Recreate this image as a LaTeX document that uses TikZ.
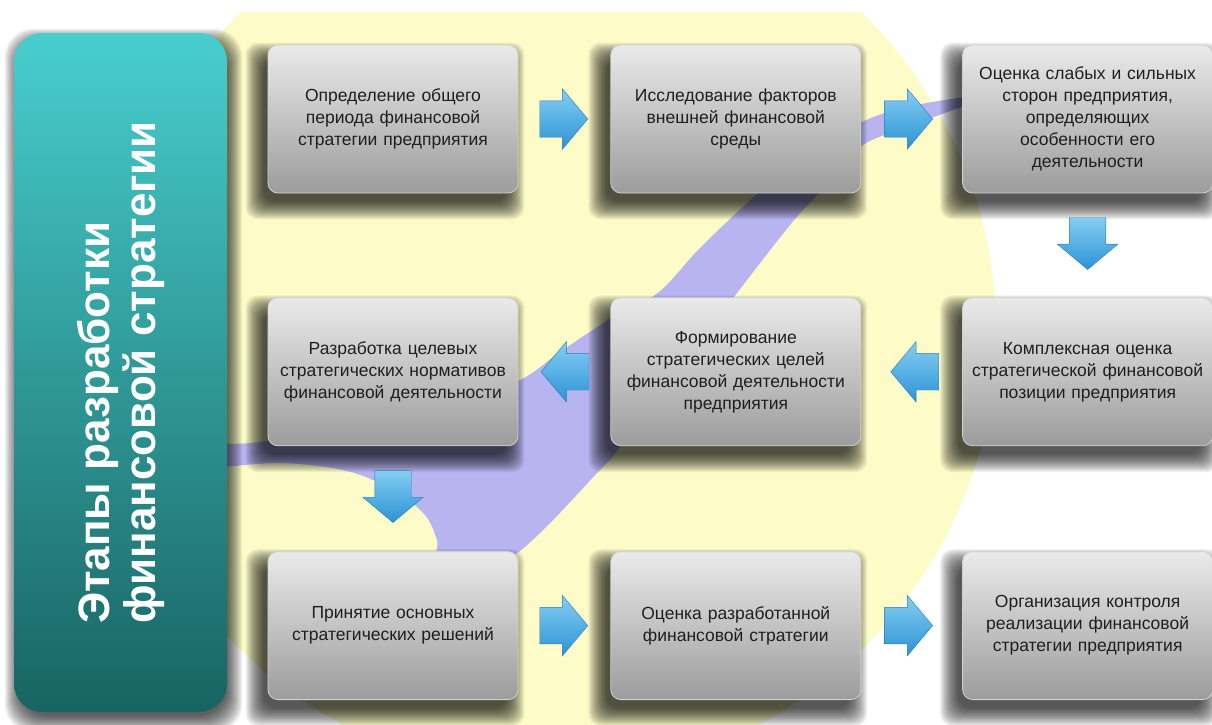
\documentclass[tikz,border=0pt]{standalone}
\usepackage{fontspec}
\setmainfont{Liberation Sans}[BoldFont={Liberation Sans Bold}]
\usetikzlibrary{positioning,calc,shapes.arrows}

\definecolor{zhelt}{RGB}{253,252,200}
\definecolor{lilac}{RGB}{184,180,240}
\definecolor{tealtop}{RGB}{72,206,206}
\definecolor{tealbot}{RGB}{24,100,98}
\definecolor{boxtop}{RGB}{234,234,234}
\definecolor{boxbot}{RGB}{156,156,156}
\definecolor{arrtop}{RGB}{132,206,243}
\definecolor{arrbot}{RGB}{46,146,212}

\pgfdeclarelayer{fon}
\pgfdeclarelayer{ten}
\pgfsetlayers{fon,ten,main}

\tikzset{
	every node/.style={
		font=\fontsize{17.5}{22}\selectfont,
		text=black!88
	},
	etap/.style={
		shape=rectangle,
		minimum width=250pt,
		minimum height=148pt,
		text width=236pt,
		inner sep=7pt,
		align=center,
		rounded corners=10pt,
		top color=boxtop,
		bottom color=boxbot,
		draw=white!82!black,
		line width=0.8pt
	},
	bokovik/.style={
		shape=rectangle,
		minimum width=213pt,
		minimum height=679pt,
		rounded corners=28pt,
		top color=tealtop,
		bottom color=tealbot
	},
	strelka/.style={
		single arrow,
		anchor=tail,
		minimum height=48pt,
		minimum width=60pt,
		single arrow head extend=12pt,
		single arrow tip angle=100,
		inner xsep=0pt,
		inner ysep=18pt,
		top color=arrtop,
		bottom color=arrbot,
		draw=arrbot!85!black,
		line width=0.4pt
	},
	strelka vlevo/.style={
		strelka,
		shape border rotate=180
	},
	strelka vniz/.style={
		strelka,
		shape border rotate=270,
		minimum height=52pt,
		inner xsep=18pt,
		inner ysep=0pt
	},
	ten/.style={
		fill=black,
		opacity=0.055
	}
}

\begin{document}
\begin{tikzpicture}[x=1pt,y=-1pt]
	\useasboundingbox (0,0) rectangle (1212,725);

	\node[bokovik] (side) at (120.5,372.5) {};
	\node[rotate=90, align=left, text=white, font=\bfseries\fontsize{44}{46}\selectfont]
		(nazv) at (side.center) {Этапы разработки\\финансовой стратегии};

	\node[etap]          (s1) at (393,119)          {Определение общего\\периода финансовой\\стратегии предприятия};
	\node[etap]          (s2) [right=92pt of s1]    {Исследование факторов\\внешней финансовой\\среды};
	\node[etap]          (s3) [right=101pt of s2]   {Оценка слабых и сильных\\сторон предприятия,\\определяющих\\особенности его\\деятельности};
	\node[etap]          (s6) [below=104pt of s3]   {Комплексная оценка\\стратегической финансовой\\позиции предприятия};
	\node[etap]          (s5) [left=101pt of s6]    {Формирование\\стратегических целей\\финансовой деятельности\\предприятия};
	\node[etap]          (s4) [left=92pt of s5]     {Разработка целевых\\стратегических нормативов\\финансовой деятельности};
	\node[etap]          (s7) [below=105pt of s4]   {Принятие основных\\стратегических решений};
	\node[etap]          (s8) [right=92pt of s7]    {Оценка разработанной\\финансовой стратегии};
	\node[etap]          (s9) [right=101pt of s8]   {Организация контроля\\реализации финансовой\\стратегии предприятия};

	\node[strelka]       (a12) at ($(s1.east)!0.23!(s2.west)$)   {};
	\node[strelka]       (a23) at ($(s2.east)!0.23!(s3.west)$)   {};
	\node[strelka vniz]  (a36) at ($(s3.south)!0.23!(s6.north)$) {};
	\node[strelka vlevo] (a65) at ($(s6.west)!0.23!(s5.east)$)   {};
	\node[strelka vlevo] (a54) at ($(s5.west)!0.23!(s4.east)$)   {};
	\node[strelka vniz]  (a47) at ($(s4.south)!0.23!(s7.north)$) {};
	\node[strelka]       (a78) at ($(s7.east)!0.23!(s8.west)$)   {};
	\node[strelka]       (a89) at ($(s8.east)!0.23!(s9.west)$)   {};

	\begin{pgfonlayer}{ten}
		\foreach \k in {0,...,16}
			\fill[ten, rounded corners=28pt] ($(side.south west)+(7-\k,4+\k)$) rectangle ($(side.north east)+(-1+\k,12-\k)$);
		\foreach \n in {s1,s2,s3,s4,s5,s6,s7,s8,s9}
			\foreach \k in {0,...,18}
				\fill[ten, rounded corners=12pt] ($(\n.south west)+(-4-\k,8+\k)$) rectangle ($(\n.north east)+(-12+\k,16-\k)$);
	\end{pgfonlayer}

	\begin{pgfonlayer}{fon}
		\begin{scope}
			\clip (0,13) rectangle (1212,725);
			\fill[zhelt] (551,331) circle (445pt);
		\end{scope}
		\fill[lilac] plot[smooth cycle, tension=0.55] coordinates {
			(968,97) (907,107) (860,123) (800,160) (756,195) (700,248) (659,292)
			(613,317) (560,352) (520,380) (450,405) (350,430) (250,443) (200,445)
			(200,467) (280,463) (347,471) (395,491) (425,515) (437,540) (442,562)
			(510,558) (600,470) (623,443) (690,355) (737,293) (790,225) (819,193)
			(860,147) (907,127) (968,104)};
	\end{pgfonlayer}
\end{tikzpicture}
\end{document}
